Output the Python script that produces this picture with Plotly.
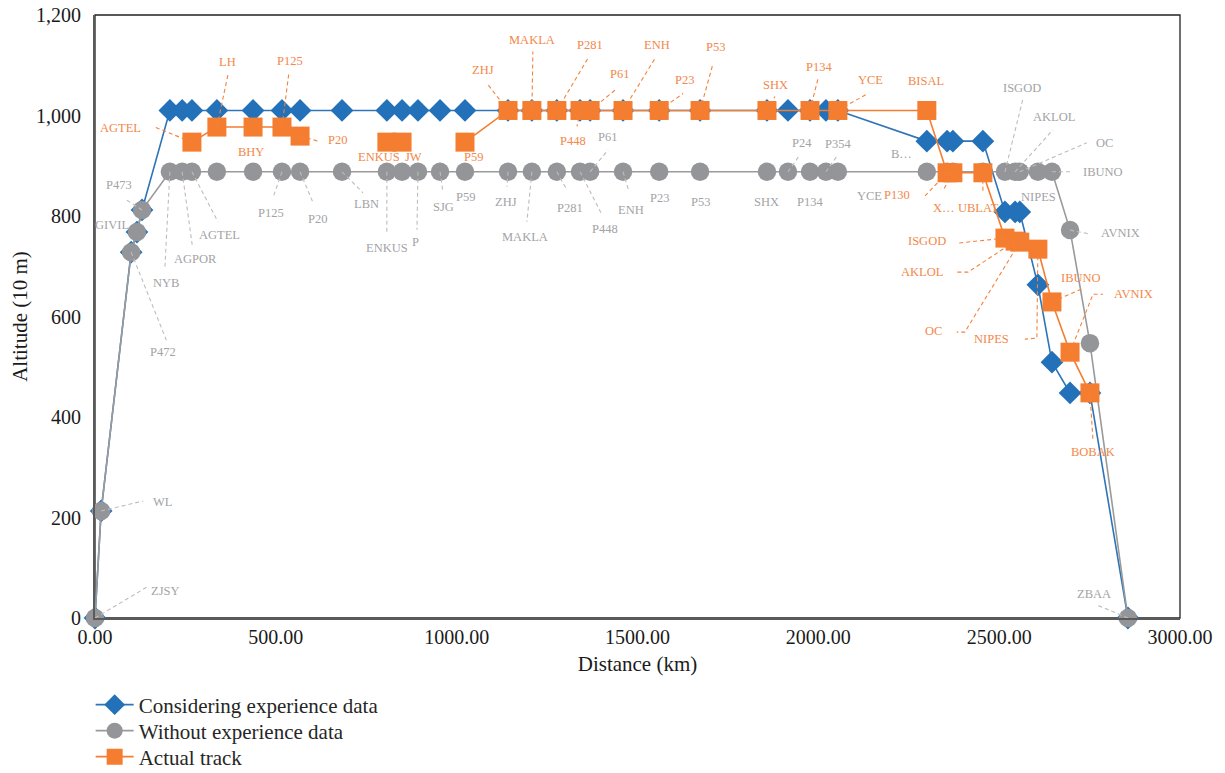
import plotly.graph_objects as go

# ---- route waypoints (distance along route, km) ----
waypoints = ["ZJSY", "WL", "P472", "GIVIL", "P473", "NYB", "AGPOR", "AGTEL", "LH", "BHY",
             "P125", "P20", "LBN", "ENKUS", "JW", "P", "SJG", "P59", "ZHJ", "MAKLA",
             "P281", "P448", "P61", "ENH", "P23", "P53", "SHX", "P24", "P134", "P354",
             "YCE", "BISAL", "P130", "X…", "UBLAT", "ISGOD", "AKLOL", "OC", "NIPES", "IBUNO",
             "AVNIX", "BOBAK", "ZBAA"]
distance_km = [0, 17, 100, 116, 130, 207, 241, 268, 337, 437,
               517, 567, 683, 807, 849, 893, 954, 1023, 1142, 1208,
               1277, 1341, 1369, 1460, 1560, 1673, 1858, 1916, 1977, 2021,
               2054, 2300, 2356, 2372, 2455, 2516, 2544, 2557, 2607, 2646,
               2696, 2751, 2856]

# ---- altitude profiles (10 m) ----
alt_considering = [0, 213, 728, 768, 812, 1010, 1010, 1010, 1010, 1010,
                   1010, 1010, 1010, 1010, 1010, 1010, 1010, 1010, 1010, 1010,
                   1010, 1010, 1010, 1010, 1010, 1010, 1010, 1010, 1010, 1010,
                   1010, 949, 949, 949, 949, 808, 808, 808, 663, 509,
                   448, 448, 0]
alt_without = [0, 213, 728, 768, 812, 888, 888, 888, 888, 888,
               888, 888, 888, 888, 888, 888, 888, 888, 888, 888,
               888, 888, 888, 888, 888, 888, 888, 888, 888, 888,
               888, 888, 888, 888, 888, 888, 888, 888, 888, 888,
               772, 547, 0]

# actual track: None marks a stretch with no recorded position
track_waypoints = ["AGTEL", "LH", "BHY", "P125", "P20", None, "ENKUS", "JW", None,
                   "P59", "ZHJ", "MAKLA", "P281", "P448", "P61", "ENH", "P23", "P53",
                   "SHX", "P134", "YCE", "BISAL", "P130", "X…", "UBLAT", "ISGOD",
                   "AKLOL", "OC", "NIPES", "IBUNO", "AVNIX", "BOBAK"]
track_alt = [947, 977, 977, 977, 959, None, 947, 947, None,
             947, 1010, 1010, 1010, 1010, 1010, 1010, 1010, 1010,
             1010, 1010, 1010, 1010, 886, 886, 886, 756,
             750, 748, 734, 629, 529, 448]

x_ticks = [0, 500, 1000, 1500, 2000, 2500, 3000]
y_ticks = [0, 200, 400, 600, 800, 1000, 1200]

# ---- colours ----
BLUE = "#2271B9"
BLUE_LINE = "#2E74B7"
GREY = "#939598"
GREY_LINE = "#9A9A9A"
ORANGE = "#F47D30"
GREY_TEXT = "#A3A3A6"
ORANGE_TEXT = "#F3884A"
GREY_LEAD = "#BDBDBD"
ORANGE_LEAD = "#F4823A"
FONT = "Liberation Serif"

# label placement: name -> (dx, dy, leader vertices) in screen pixels from the marker
grey_labels = {
    "ZJSY": (70, -27, [(52, -31)]),
    "WL": (61, -9, [(42, -10)]),
    "P472": (32, 100, [(36, 90)]),
    "GIVIL": (-25, -7, None),
    "P473": (-23, -25, [(-17, -11)]),
    "NYB": (-4, 111, [(-5, 96)]),
    "AGPOR": (13, 87, [(10, 73)]),
    "AGTEL": (28, 63, [(26, 50)]),
    "P125": (-11, 41, [(-9, 26)]),
    "P20": (17, 47, [(13, 31)]),
    "LBN": (24, 32, [(21, 21)]),
    "ENKUS": (0, 76, [(0, 60)]),
    "P": (-2, 70, [(-1, 58)]),
    "SJG": (3, 35, [(3, 21)]),
    "P59": (1, 25, None),
    "ZHJ": (-2, 30, [(-1, 15)]),
    "MAKLA": (-7, 65, [(-5, 50)]),
    "P281": (13, 36, [(10, 18)]),
    "P448": (25, 57, [(21, 41)]),
    "P61": (17, -35, [(18, -22)]),
    "ENH": (8, 38, [(6, 20)]),
    "P23": (0, 26, None),
    "P53": (0, 30, None),
    "SHX": (0, 30, None),
    "P24": (14, -29, [(12, -17)]),
    "P134": (0, 30, None),
    "P354": (12, -28, [(12, -17)]),
    "YCE": (32, 24, None),
    "BISAL": (-25, -18, None),
    "ISGOD": (17, -84, [(18, -73)]),
    "AKLOL": (39, -55, [(38, -42)]),
    "OC": (85, -29, [(67, -29)]),
    "NIPES": (1, 25, None),
    "IBUNO": (51, 0, [(21, 0)]),
    "AVNIX": (50, 3, [(20, 4)]),
    "ZBAA": (-34, -24, [(-31, -13)]),
}
grey_text_override = {"BISAL": "B…"}

orange_labels = {
    "AGTEL": (-71, -14, [(-37, -15)]),
    "LH": (11, -65, [(11, -52)]),
    "BHY": (-2, 25, None),
    "P125": (8, -66, [(7, -55)]),
    "P20": (37, 4, [(18, 5)]),
    "ENKUS": (-8, 15, None),
    "JW": (11, 15, None),
    "P59": (9, 15, None),
    "ZHJ": (-25, -40, [(-21, -27)]),
    "MAKLA": (0, -70, [(1, -59)]),
    "P281": (33, -65, [(31, -52)]),
    "P448": (-7, 31, [(-3, 16)]),
    "P61": (29, -36, [(27, -22)]),
    "ENH": (34, -65, [(32, -52)]),
    "P23": (25, -30, [(24, -17)]),
    "P53": (15, -63, [(13, -47)]),
    "SHX": (9, -25, [(8, -14)]),
    "P134": (9, -43, [(8, -32)]),
    "YCE": (33, -30, [(30, -17)]),
    "BISAL": (-1, -29, None),
    "P130": (-50, 22, [(-22, 23)]),
    "X…": (-9, 35, [(-10, 18)]),
    "UBLAT": (-4, 35, [(0, 19)]),
    "ISGOD": (-78, 3, [(-47, 5)]),
    "AKLOL": (-93, 31, [(-47, 31), (-58, 31)]),
    "OC": (-86, 89, [(-55, 90), (-63, 90)]),
    "NIPES": (-46, 90, [(-1, 89), (-13, 90)]),
    "IBUNO": (29, -24, [(30, -13)]),
    "AVNIX": (63, -58, [(23, -58), (33, -58)]),
    "BOBAK": (3, 59, [(3, 47)]),
}

dist_of = dict(zip(waypoints, distance_km))
track_x = [dist_of[w] if w is not None else None for w in track_waypoints]

fig = go.Figure()
fig.add_trace(go.Scatter(
    x=distance_km, y=alt_considering, mode="lines+markers",
    name="Considering experience data", legend="legend",
    line=dict(color=BLUE_LINE, width=1.6),
    marker=dict(symbol="diamond", size=17.5, color=BLUE),
    cliponaxis=False,
))
fig.add_trace(go.Scatter(
    x=distance_km, y=alt_without, mode="lines+markers",
    name="Without experience data", legend="legend2",
    line=dict(color=GREY_LINE, width=1.6),
    marker=dict(symbol="circle", size=18.5, color=GREY),
    cliponaxis=False,
))
fig.add_trace(go.Scatter(
    x=track_x, y=track_alt, mode="lines+markers",
    name="Actual track", legend="legend3",
    line=dict(color=ORANGE, width=1.6),
    marker=dict(symbol="square", size=19, color=ORANGE),
    connectgaps=False, cliponaxis=False,
))

annotations = []
shapes = []


def add_labels(labels, xs, ys, names, text_color, lead_color, overrides=None):
    overrides = overrides or {}
    lookup = {n: (x, y) for n, x, y in zip(names, xs, ys) if n is not None and y is not None}
    for name, (dx, dy, leader) in labels.items():
        x, y = lookup[name]
        annotations.append(dict(
            x=x, y=y, xref="x", yref="y", text=overrides.get(name, name),
            showarrow=False, xshift=dx, yshift=-dy,
            font=dict(family=FONT, size=12.5, color=text_color),
        ))
        if leader:
            path = "M0,0" + "".join(f" L{px},{-py}" for px, py in leader)
            shapes.append(dict(
                type="path", path=path, xref="x", yref="y",
                xsizemode="pixel", ysizemode="pixel", xanchor=x, yanchor=y,
                line=dict(color=lead_color, width=1.1, dash="4px,3px"),
            ))


add_labels(grey_labels, distance_km, alt_without, waypoints, GREY_TEXT, GREY_LEAD,
           grey_text_override)
add_labels(orange_labels, track_x, track_alt, track_waypoints, ORANGE_TEXT, ORANGE_LEAD)

# thin frame around the plotting area
shapes.append(dict(type="rect", xref="paper", yref="paper", x0=0, y0=0, x1=1, y1=1,
                   line=dict(color="#222222", width=1.3), layer="below"))

# one legend block per series, stacked below the axes
legend_style = dict(x=-0.004, xanchor="left", yanchor="middle",
                    font=dict(family=FONT, size=21, color="#262626"),
                    bgcolor="rgba(0,0,0,0)", itemwidth=38)

fig.update_layout(
    width=1225, height=773,
    margin=dict(l=95, r=45, t=15, b=155, autoexpand=False),
    paper_bgcolor="white", plot_bgcolor="white",
    font=dict(family=FONT, color="#1a1a1a"),
    annotations=annotations, shapes=shapes,
    showlegend=True,
    legend=dict(y=-0.1443, **legend_style),
    legend2=dict(y=-0.1874, **legend_style),
    legend3=dict(y=-0.2305, **legend_style),
)
fig.update_xaxes(
    range=[0, 3000], tickvals=x_ticks, tickformat=".2f",
    showgrid=False, zeroline=False, showline=True, linecolor="#5a5a5a", linewidth=2,
    ticks="", tickfont=dict(family=FONT, size=20, color="#1a1a1a"),
    title=dict(text="Distance (km)", font=dict(family=FONT, size=21, color="#1a1a1a"),
               standoff=9),
)
fig.update_yaxes(
    range=[0, 1200], tickvals=y_ticks, tickformat=",",
    showgrid=False, zeroline=False, showline=True, linecolor="#5a5a5a", linewidth=2,
    ticks="", ticklabelstandoff=8, tickfont=dict(family=FONT, size=20, color="#1a1a1a"),
    title=dict(text="Altitude (10 m)", font=dict(family=FONT, size=21, color="#1a1a1a"),
               standoff=3),
)

fig.write_html("out.html")
